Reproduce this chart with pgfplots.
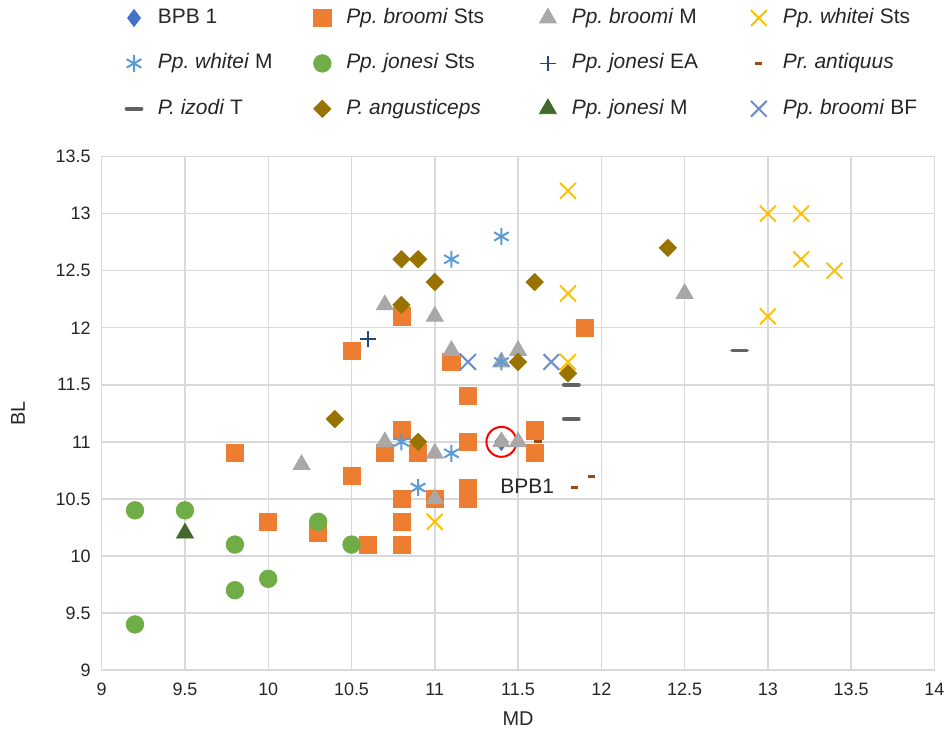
\documentclass[border=0pt]{standalone}
\usepackage{fontspec}
\setmainfont{Liberation Sans}
\usepackage{pgfplots}
\pgfplotsset{compat=1.18}
\frenchspacing

\definecolor{gridc}{HTML}{D9D9D9}
\definecolor{txt}{HTML}{262626}
\definecolor{cBPB}{HTML}{4472C4}
\definecolor{cbSts}{HTML}{ED7D31}
\definecolor{cbM}{HTML}{AAA7A7}
\definecolor{cwSts}{HTML}{FFC000}
\definecolor{cwM}{HTML}{5B9BD5}
\definecolor{cjSts}{HTML}{70AD47}
\definecolor{cjEA}{HTML}{264478}
\definecolor{cant}{HTML}{9E480E}
\definecolor{cizo}{HTML}{636363}
\definecolor{cang}{HTML}{997300}
\definecolor{cjM}{HTML}{43682B}
\definecolor{cbBF}{HTML}{698ED0}

\begin{document}
\begin{tikzpicture}
\begin{axis}[
    scale only axis, width=417.5pt, height=257.5pt,
    xmin=9, xmax=14, ymin=9, ymax=13.5,
    xtick={9,9.5,...,14}, ytick={9,9.5,...,13.5},
    grid=major, major grid style={line width=0.75pt, color=gridc},
    axis line style={line width=0.75pt, color=gridc},
    tick style={draw=none},
    tick label style={font=\fontsize{9}{10}\selectfont, color=txt},
    /pgf/number format/assume math mode=true,
    xticklabel style={yshift=-3pt},
    yticklabel style={xshift=-2pt},
    xlabel=MD, ylabel=BL,
    label style={font=\fontsize{10}{12}\selectfont, color=txt},
    xlabel style={at={(axis description cs:0.5,-0.095)}, anchor=center},
    ylabel style={at={(axis description cs:-0.1006,0.5)}, anchor=center},
    legend columns=4,
    legend cell align=left,
    legend image code/.code={
        \path[draw=none, fill=none] (-7pt,0pt) -- (10pt,0pt);
        \draw[#1] plot coordinates {(0pt,0pt)};
    },
    legend style={draw=none, fill=none, inner sep=0pt,
        font=\fontsize{10.5}{12}\selectfont, text=txt,
        at={(rel axis cs:0,1)}, anchor=south west, xshift=9pt, yshift=16.5pt,
        nodes={text height=8pt, text depth=2.5pt},
        row sep=8.25pt,
        /tikz/column 2/.style={column sep=16pt},
        /tikz/column 4/.style={column sep=23pt},
        /tikz/column 6/.style={column sep=21.5pt}},
    only marks,
]
% BPB 1
\addplot[mark=diamond*, mark size=4.3pt, color=cBPB] coordinates {(11.4,11.0)};
\addlegendentry{BPB 1}
% Pp. broomi Sts
\addplot[mark=square*, mark size=4.3pt, color=cbSts] coordinates {
    (9.8,10.9) (10.0,10.3) (10.3,10.2) (10.5,11.8) (10.5,10.7) (10.6,10.1)
    (10.7,10.9) (10.8,12.1) (10.8,11.1) (10.8,10.5) (10.8,10.3) (10.8,10.1)
    (10.9,10.9) (11.0,10.5) (11.1,11.7) (11.2,11.4) (11.2,11.0) (11.2,10.6)
    (11.2,10.5) (11.6,11.1) (11.6,10.9) (11.9,12.0)
};
\addlegendentry{\textit{Pp. broomi} Sts}
% Pp. broomi M
\addplot[mark=triangle*, mark size=4.9pt, color=cbM] coordinates {
    (10.2,10.8) (10.7,12.2) (10.7,11.0) (11.0,12.1) (11.1,11.8) (11.0,10.9)
    (11.0,10.5) (11.4,11.7) (11.5,11.8) (11.4,11.0) (11.5,11.0) (12.5,12.3)
};
\addlegendentry{\textit{Pp. broomi} M}
% Pp. whitei Sts
\addplot[mark=x, mark size=5.6pt, color=cwSts, line width=1pt] coordinates {
    (11.8,13.2) (11.8,12.3) (11.8,11.7) (11.0,10.3) (13.0,13.0) (13.2,13.0)
    (13.2,12.6) (13.4,12.5) (13.0,12.1)
};
\addlegendentry{\textit{Pp. whitei} Sts}
% Pp. whitei M
\addplot[mark=asterisk, mark size=4.25pt, color=cwM, line width=1pt] coordinates {
    (11.1,12.6) (11.4,12.8) (11.4,11.7) (10.8,11.0) (11.1,10.9) (10.9,10.6)
};
\addlegendentry{\textit{Pp. whitei} M}
% Pp. jonesi Sts
\addplot[mark=*, mark size=4.4pt, color=cjSts] coordinates {
    (9.2,10.4) (9.5,10.4) (9.8,10.1) (9.8,9.7) (10.0,9.8) (9.2,9.4)
    (10.3,10.3) (10.5,10.1)
};
\addlegendentry{\textit{Pp. jonesi} Sts}
% Pp. jonesi EA
\addplot[mark=+, mark size=3.9pt, color=cjEA, line width=0.7pt] coordinates {(10.6,11.9)};
\addlegendentry{\textit{Pp. jonesi} EA}
% Pr. antiquus
\addplot[mark=-, mark size=1.8pt, color=cant, line width=1.6pt] coordinates {
    (11.62,11.0) (11.84,10.6) (11.94,10.7)
};
\addlegendentry{\textit{Pr. antiquus}}
% P. izodi T
\addplot[mark=-, mark size=3.8pt, color=cizo, line width=1.8pt, mark options={line cap=round}] coordinates {
    (11.82,11.5) (11.82,11.2) (12.83,11.8)
};
\addlegendentry{\textit{P. izodi} T}
% P. angusticeps
\addplot[mark=square*, mark size=3.05pt, color=cang, mark options={rotate=45}] coordinates {
    (10.4,11.2) (10.8,12.6) (10.9,12.6) (10.8,12.2) (11.0,12.4) (10.9,11.0)
    (11.6,12.4) (11.5,11.7) (11.8,11.6) (12.4,12.7)
};
\addlegendentry{\textit{P. angusticeps}}
% Pp. jonesi M
\addplot[mark=triangle*, mark size=4.9pt, color=cjM] coordinates {(9.5,10.2)};
\addlegendentry{\textit{Pp. jonesi} M}
% Pp. broomi BF
\addplot[mark=x, mark size=5.6pt, color=cbBF, line width=1pt] coordinates {
    (11.2,11.7) (11.7,11.7)
};
\addlegendentry{\textit{Pp. broomi} BF}

\draw[red, line width=1pt] (axis cs:11.4,11.0) circle[radius=7.5pt];
\node[font=\fontsize{10.5}{12}\selectfont, color=txt] at (axis cs:11.555,10.615) {BPB1};

\coordinate (sw) at (rel axis cs:0,0);
\coordinate (ne) at (rel axis cs:1,1);
\end{axis}
\path ([shift={(-51pt,-30.5pt)}]sw) rectangle ([shift={(7pt,78.5pt)}]ne);
\end{tikzpicture}
\end{document}
